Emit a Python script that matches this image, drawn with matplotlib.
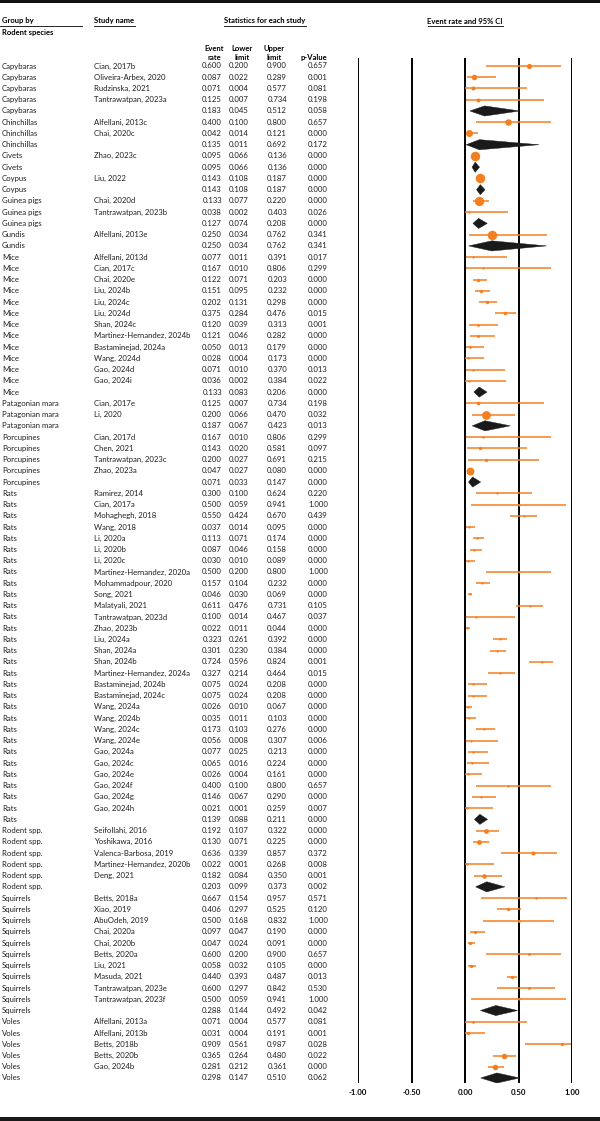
import numpy as np
import matplotlib
matplotlib.use("Agg")
import matplotlib.pyplot as plt
from matplotlib.transforms import blended_transform_factory
from matplotlib.patches import Polygon, Rectangle
from matplotlib.lines import Line2D

plt.rcParams['font.family'] = ['Lato', 'DejaVu Sans']

# ---------------- data ----------------
group = (["Capybaras"] * 5 + ["Chinchillas"] * 3 + ["Civets"] * 2 + ["Coypus"] * 2 +
         ["Guinea pigs"] * 3 + ["Gundis"] * 2 + ["Mice"] * 13 + ["Patagonian mara"] * 3 +
         ["Porcupines"] * 5 + ["Rats"] * 30 + ["Rodent spp."] * 6 + ["Squirrels"] * 11 +
         ["Voles"] * 6)

study = [
    "Cian, 2017b", "Oliveira-Arbex, 2020", "Rudzinska, 2021", "Tantrawatpan, 2023a", "",
    "Alfellani, 2013c", "Chai, 2020c", "",
    "Zhao, 2023c", "",
    "Liu, 2022", "",
    "Chai, 2020d", "Tantrawatpan, 2023b", "",
    "Alfellani, 2013e", "",
    "Alfellani, 2013d", "Cian, 2017c", "Chai, 2020e", "Liu, 2024b", "Liu, 2024c", "Liu, 2024d",
    "Shan, 2024c", "Martinez-Hernandez, 2024b", "Bastaminejad, 2024a", "Wang, 2024d",
    "Gao, 2024d", "Gao, 2024i", "",
    "Cian, 2017e", "Li, 2020", "",
    "Cian, 2017d", "Chen, 2021", "Tantrawatpan, 2023c", "Zhao, 2023a", "",
    "Ramirez, 2014", "Cian, 2017a", "Mohaghegh, 2018", "Wang, 2018", "Li, 2020a", "Li, 2020b",
    "Li, 2020c", "Martinez-Hernandez, 2020a", "Mohammadpour, 2020", "Song, 2021",
    "Malatyali, 2021", "Tantrawatpan, 2023d", "Zhao, 2023b", "Liu, 2024a", "Shan, 2024a",
    "Shan, 2024b", "Martinez-Hernandez, 2024a", "Bastaminejad, 2024b", "Bastaminejad, 2024c",
    "Wang, 2024a", "Wang, 2024b", "Wang, 2024c", "Wang, 2024e", "Gao, 2024a", "Gao, 2024c",
    "Gao, 2024e", "Gao, 2024f", "Gao, 2024g", "Gao, 2024h", "",
    "Seifollahi, 2016", "Yoshikawa, 2016", "Valenca-Barbosa, 2019",
    "Martinez-Hernandez, 2020b", "Deng, 2021", "",
    "Betts, 2018a", "Xiao, 2019", "AbuOdeh, 2019", "Chai, 2020a", "Chai, 2020b", "Betts, 2020a",
    "Liu, 2021", "Masuda, 2021", "Tantrawatpan, 2023e", "Tantrawatpan, 2023f", "",
    "Alfellani, 2013a", "Alfellani, 2013b", "Betts, 2018b", "Betts, 2020b", "Gao, 2024b", "",
]

event_rate = [
    0.600, 0.087, 0.071, 0.125, 0.183,
    0.400, 0.042, 0.135,
    0.095, 0.095,
    0.143, 0.143,
    0.133, 0.038, 0.127,
    0.250, 0.250,
    0.077, 0.167, 0.122, 0.151, 0.202, 0.375, 0.120, 0.121, 0.050, 0.028, 0.071, 0.036, 0.133,
    0.125, 0.200, 0.187,
    0.167, 0.143, 0.200, 0.047, 0.071,
    0.300, 0.500, 0.550, 0.037, 0.113, 0.087, 0.030, 0.500, 0.157, 0.046, 0.611, 0.100, 0.022,
    0.323, 0.301, 0.724, 0.327, 0.075, 0.075, 0.026, 0.035, 0.173, 0.056, 0.077, 0.065, 0.026,
    0.400, 0.146, 0.021, 0.139,
    0.192, 0.130, 0.636, 0.022, 0.182, 0.203,
    0.667, 0.406, 0.500, 0.097, 0.047, 0.600, 0.058, 0.440, 0.600, 0.500, 0.288,
    0.071, 0.031, 0.909, 0.365, 0.281, 0.298,
]

lower = [
    0.200, 0.022, 0.004, 0.007, 0.045,
    0.100, 0.014, 0.011,
    0.066, 0.066,
    0.108, 0.108,
    0.077, 0.002, 0.074,
    0.034, 0.034,
    0.011, 0.010, 0.071, 0.095, 0.131, 0.284, 0.039, 0.046, 0.013, 0.004, 0.010, 0.002, 0.083,
    0.007, 0.066, 0.067,
    0.010, 0.020, 0.027, 0.027, 0.033,
    0.100, 0.059, 0.424, 0.014, 0.071, 0.046, 0.010, 0.200, 0.104, 0.030, 0.476, 0.014, 0.011,
    0.261, 0.230, 0.596, 0.214, 0.024, 0.024, 0.010, 0.011, 0.103, 0.008, 0.025, 0.016, 0.004,
    0.100, 0.067, 0.001, 0.088,
    0.107, 0.071, 0.339, 0.001, 0.084, 0.099,
    0.154, 0.297, 0.168, 0.047, 0.024, 0.200, 0.032, 0.393, 0.297, 0.059, 0.144,
    0.004, 0.004, 0.561, 0.264, 0.212, 0.147,
]

upper = [
    0.900, 0.289, 0.577, 0.734, 0.512,
    0.800, 0.121, 0.692,
    0.136, 0.136,
    0.187, 0.187,
    0.220, 0.403, 0.208,
    0.762, 0.762,
    0.391, 0.806, 0.203, 0.232, 0.298, 0.476, 0.313, 0.282, 0.179, 0.173, 0.370, 0.384, 0.206,
    0.734, 0.470, 0.423,
    0.806, 0.581, 0.691, 0.080, 0.147,
    0.624, 0.941, 0.670, 0.095, 0.174, 0.158, 0.089, 0.800, 0.232, 0.069, 0.731, 0.467, 0.044,
    0.392, 0.384, 0.824, 0.464, 0.208, 0.208, 0.067, 0.103, 0.276, 0.307, 0.213, 0.224, 0.161,
    0.800, 0.290, 0.259, 0.211,
    0.322, 0.225, 0.857, 0.268, 0.350, 0.373,
    0.957, 0.525, 0.832, 0.190, 0.091, 0.900, 0.105, 0.487, 0.842, 0.941, 0.492,
    0.577, 0.191, 0.987, 0.480, 0.361, 0.510,
]

p_value = [
    0.657, 0.001, 0.081, 0.198, 0.058,
    0.657, 0.000, 0.172,
    0.000, 0.000,
    0.000, 0.000,
    0.000, 0.026, 0.000,
    0.341, 0.341,
    0.017, 0.299, 0.000, 0.000, 0.000, 0.015, 0.001, 0.000, 0.000, 0.000, 0.013, 0.022, 0.000,
    0.198, 0.032, 0.013,
    0.299, 0.097, 0.215, 0.000, 0.000,
    0.220, 1.000, 0.439, 0.000, 0.000, 0.000, 0.000, 1.000, 0.000, 0.000, 0.105, 0.037, 0.000,
    0.000, 0.000, 0.001, 0.015, 0.000, 0.000, 0.000, 0.000, 0.000, 0.006, 0.000, 0.000, 0.000,
    0.657, 0.000, 0.007, 0.000,
    0.000, 0.000, 0.372, 0.008, 0.001, 0.002,
    0.571, 0.120, 1.000, 0.000, 0.000, 0.657, 0.000, 0.013, 0.530, 1.000, 0.042,
    0.081, 0.001, 0.028, 0.022, 0.000, 0.062,
]

x_ticks = [-1.00, -0.50, 0.00, 0.50, 1.00]

# ---------------- layout ----------------
W, H = 600, 1121
fig = plt.figure(figsize=(W / 100, H / 100), dpi=100)
fig.patch.set_facecolor("white")


def fx(px):
    return px / W


def fy(py):
    return 1 - py / H


n = len(group)
row0_px, rowN_px = 66, 1078
step = (rowN_px - row0_px) / (n - 1)
ax_top, ax_bot = 58, 1083
x_left, x_right = 358, 572

ax = fig.add_axes([fx(x_left), fy(ax_bot), (x_right - x_left) / W, (ax_bot - ax_top) / H])
ax.set_xlim(-1, 1)
ax.set_ylim((ax_bot - row0_px) / step, (ax_top - row0_px) / step)
for s in ax.spines.values():
    s.set_visible(False)
ax.set_yticks([])
ax.set_xticks(x_ticks, labels=[f"{t:.2f}" for t in x_ticks])
ax.tick_params(axis="x", length=0, pad=4, labelsize=5.6)
for lbl in ax.get_xticklabels():
    lbl.set_fontweight("bold")
ax.patch.set_alpha(0)

for t in x_ticks:
    ax.axvline(t, color="black", lw=1.4, zorder=1)

orange = "#F47F20"

# relative (random-effects) weights within subgroup -> marker size
er = np.array(event_rate)
lo = np.array(lower)
up = np.array(upper)
is_sum = np.array([s == "" for s in study])


def logit(p):
    return np.log(p / (1 - p))


yi = logit(er)
vi = ((logit(up) - logit(lo)) / 3.92) ** 2
relw = np.ones(n)
start = 0
for i in range(n):
    if is_sum[i]:
        idx = np.arange(start, i)
        w = 1 / vi[idx]
        ybar = np.sum(w * yi[idx]) / np.sum(w)
        Q = np.sum(w * (yi[idx] - ybar) ** 2)
        k = len(idx)
        C = np.sum(w) - np.sum(w ** 2) / np.sum(w)
        tau2 = max(0.0, (Q - (k - 1)) / C) if k > 1 else 0.0
        ws = 1 / (vi[idx] + tau2)
        relw[idx] = ws / ws.sum()
        start = i + 1

for i in range(n):
    if is_sum[i]:
        h = 0.45
        poly = Polygon([[lo[i], i], [er[i], i - h], [up[i], i], [er[i], i + h]],
                       closed=True, facecolor="#1a1a1a", edgecolor="#1a1a1a", lw=0.3, zorder=3)
        ax.add_patch(poly)
    else:
        ax.plot([lo[i], up[i]], [i, i], color=orange, lw=1.1, solid_capstyle="butt", zorder=2)
        d_px = max(2.2, 9.5 * np.sqrt(relw[i]))
        ax.plot(er[i], i, "o", ms=d_px * 0.72, color=orange, mec="none", zorder=3)

# ---------------- table text ----------------
tr = blended_transform_factory(fig.transFigure, ax.transData)
fs = 5.55
txt_col = "#1e1e1e"
for i in range(n):
    ax.text(fx(2), i, group[i], transform=tr, ha="left", va="center", fontsize=fs, color=txt_col)
    if study[i]:
        ax.text(fx(94), i, study[i], transform=tr, ha="left", va="center", fontsize=fs, color=txt_col)
    for xr, v in zip([222, 248.5, 287, 328], [event_rate[i], lower[i], upper[i], p_value[i]]):
        ax.text(fx(xr), i, f"{v:.3f}", transform=tr, ha="right", va="center", fontsize=fs,
                color=txt_col)

# ---------------- headers ----------------
hfs = 5.5
fig.text(fx(2), fy(21), "Group by", ha="left", va="center", fontsize=hfs, fontweight="bold")
fig.text(fx(2), fy(32), "Rodent species", ha="left", va="center", fontsize=hfs, fontweight="bold")
fig.text(fx(94), fy(21), "Study name", ha="left", va="center", fontsize=hfs, fontweight="bold")
fig.text(fx(265), fy(21), "Statistics for each study", ha="center", va="center", fontsize=hfs,
         fontweight="bold")
fig.text(fx(465), fy(21), "Event rate and 95% CI", ha="center", va="center", fontsize=hfs,
         fontweight="bold")
for xc, lab in zip([214, 242, 274, 314], ["Event\nrate", "Lower\nlimit", "Upper\nlimit", "p-Value"]):
    fig.text(fx(xc), fy(61), lab, ha="center", va="bottom", fontsize=hfs, fontweight="bold",
             linespacing=1.3)

for x0, x1 in [(0, 82), (94, 135), (224, 306), (428, 503)]:
    fig.add_artist(Line2D([fx(x0), fx(x1)], [fy(25.5), fy(25.5)], color="black", lw=0.6))

# top and bottom bands
fig.add_artist(Rectangle((0, fy(3)), 1, 3 / H, transform=fig.transFigure, color="#111111", lw=0))
fig.add_artist(Rectangle((0, 0), 1, 4 / H, transform=fig.transFigure, color="#1a1a1a", lw=0))

fig.savefig("out.png", dpi=100)
